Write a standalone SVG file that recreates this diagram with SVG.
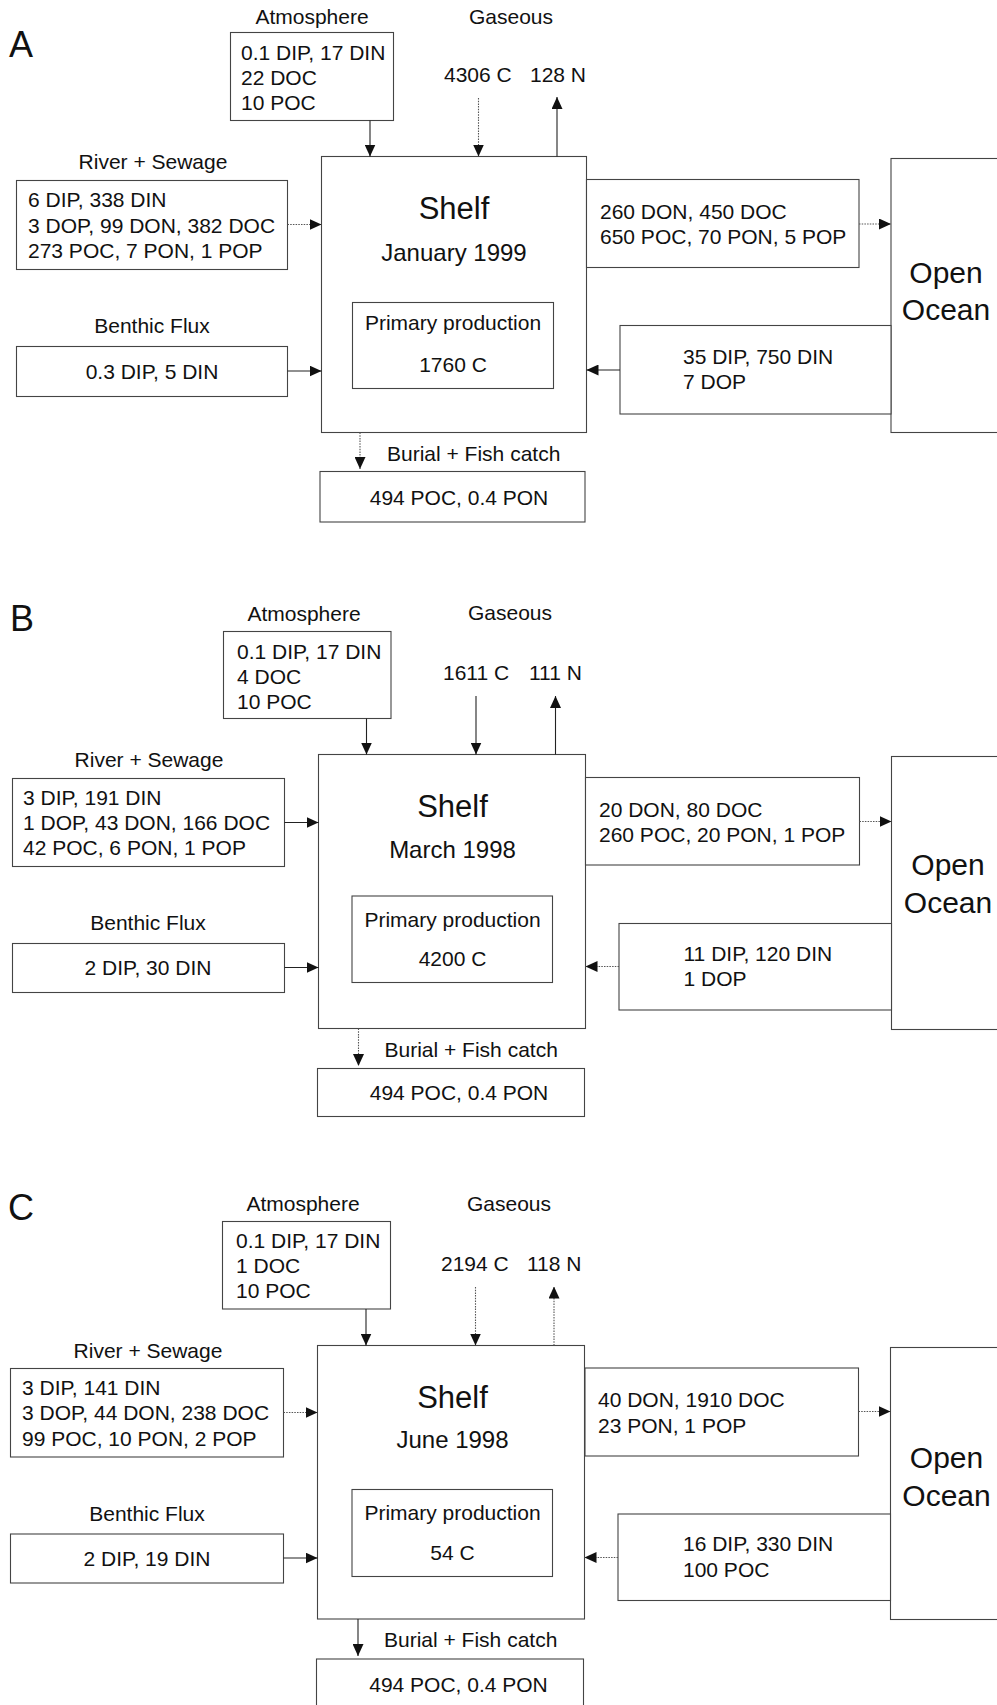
<svg xmlns="http://www.w3.org/2000/svg" width="997" height="1705" viewBox="0 0 997 1705">
<style>
text{font-family:"Liberation Sans",Arial,sans-serif;font-size:21px;fill:#111}
.lbl{font-size:21px}
.c{text-anchor:middle}
.big{font-size:31px}
.date{font-size:24px}
.oc{font-size:30px}
.pl{font-size:36px}
rect{fill:#fff;stroke:#444;stroke-width:1.1}
.s{stroke:#222;stroke-width:1.1;fill:none}
.d{stroke:#555;stroke-width:1.1;fill:none;stroke-dasharray:1.5 1.2}
</style>
<defs>
<marker id="ah" markerUnits="userSpaceOnUse" markerWidth="12" markerHeight="11" viewBox="0 0 12 11" refX="12" refY="5.5" orient="auto">
<path d="M0,0 L12,5.5 L0,11 z" fill="#111"/>
</marker>
</defs>
<rect x="0" y="0" width="997" height="1705" style="fill:#fff;stroke:none"/>

<!-- ===== Panel A ===== -->
<g id="panelA">
<text class="pl" x="9" y="57">A</text>
<g id="A-atm">
<text class="lbl c" x="312" y="24">Atmosphere</text>
<rect x="230.5" y="32.5" width="163" height="88"/>
<text x="241" y="59.5">0.1 DIP, 17 DIN</text>
<text x="241" y="85">22 DOC</text>
<text x="241" y="110">10 POC</text>
</g>
<g id="A-gas">
<text class="lbl c" x="511" y="24">Gaseous</text>
<text x="444" y="82">4306 C</text>
<text x="530" y="82">128 N</text>
</g>
<g id="A-shelf">
<rect x="321.5" y="156.5" width="265" height="276"/>
<text class="big c" x="454" y="219">Shelf</text>
<text class="date c" x="454" y="261">January 1999</text>
</g>
<g id="A-pp">
<rect x="352.5" y="302.5" width="201" height="86"/>
<text class="c" x="453" y="330">Primary production</text>
<text class="c" x="453" y="372">1760 C</text>
</g>
<g id="A-river">
<text class="lbl c" x="153" y="169">River + Sewage</text>
<rect x="16.5" y="180.5" width="271" height="89"/>
<text x="28" y="207">6 DIP, 338 DIN</text>
<text x="28" y="232.5">3 DOP, 99 DON, 382 DOC</text>
<text x="28" y="258">273 POC, 7 PON, 1 POP</text>
</g>
<g id="A-benthic">
<text class="lbl c" x="152" y="333">Benthic Flux</text>
<rect x="16.5" y="346.5" width="271" height="50"/>
<text class="c" x="152" y="379">0.3 DIP, 5 DIN</text>
</g>
<g id="A-burial">
<text x="387" y="461">Burial + Fish catch</text>
<rect x="320" y="471.5" width="265" height="50.5"/>
<text class="c" x="459" y="505">494 POC, 0.4 PON</text>
</g>
<g id="A-out">
<rect x="586.5" y="179.5" width="272.5" height="88"/>
<text x="600" y="218.5">260 DON, 450 DOC</text>
<text x="600" y="243.5">650 POC, 70 PON, 5 POP</text>
</g>
<g id="A-ocean">
<rect x="891" y="158.5" width="200" height="274"/>
<text class="oc c" x="946" y="283">Open</text>
<text class="oc c" x="946" y="320">Ocean</text>
</g>
<g id="A-in">
<rect x="620" y="325.5" width="271" height="88.5"/>
<text x="683" y="363.5">35 DIP, 750 DIN</text>
<text x="683" y="388.5">7 DOP</text>
</g>
</g>

<!-- ===== Panel B ===== -->
<g id="panelB">
<text class="pl" x="10" y="631">B</text>
<g id="B-atm">
<text class="lbl c" x="304" y="621">Atmosphere</text>
<rect x="223.5" y="631.5" width="167.5" height="87"/>
<text x="237" y="658.5">0.1 DIP, 17 DIN</text>
<text x="237" y="683.5">4 DOC</text>
<text x="237" y="708.5">10 POC</text>
</g>
<g id="B-gas">
<text class="lbl c" x="510" y="619.5">Gaseous</text>
<text x="443" y="680">1611 C</text>
<text x="529" y="680">111 N</text>
</g>
<g id="B-shelf">
<rect x="318.5" y="754.5" width="267" height="274"/>
<text class="big c" x="452.5" y="816.5">Shelf</text>
<text class="date c" x="452.5" y="857.5">March 1998</text>
</g>
<g id="B-pp">
<rect x="352" y="896" width="200.5" height="86.5"/>
<text class="c" x="452.5" y="926.5">Primary production</text>
<text class="c" x="452.5" y="966">4200 C</text>
</g>
<g id="B-river">
<text class="lbl c" x="149" y="766.5">River + Sewage</text>
<rect x="12.5" y="778.5" width="272" height="88"/>
<text x="23" y="805">3 DIP, 191 DIN</text>
<text x="23" y="830">1 DOP, 43 DON, 166 DOC</text>
<text x="23" y="855">42 POC, 6 PON, 1 POP</text>
</g>
<g id="B-benthic">
<text class="lbl c" x="148" y="930">Benthic Flux</text>
<rect x="12.5" y="943.5" width="272" height="49"/>
<text class="c" x="148" y="975">2 DIP, 30 DIN</text>
</g>
<g id="B-burial">
<text x="384.5" y="1056.5">Burial + Fish catch</text>
<rect x="317.5" y="1068.5" width="267" height="48"/>
<text class="c" x="459" y="1100">494 POC, 0.4 PON</text>
</g>
<g id="B-out">
<rect x="585.5" y="777.5" width="274" height="87.5"/>
<text x="599" y="816.5">20 DON, 80 DOC</text>
<text x="599" y="841.5">260 POC, 20 PON, 1 POP</text>
</g>
<g id="B-ocean">
<rect x="891.5" y="756.5" width="200" height="273"/>
<text class="oc c" x="948" y="875">Open</text>
<text class="oc c" x="948" y="913">Ocean</text>
</g>
<g id="B-in">
<rect x="619" y="923.5" width="272.5" height="86.5"/>
<text x="683.5" y="961">11 DIP, 120 DIN</text>
<text x="683.5" y="986">1 DOP</text>
</g>
</g>

<!-- ===== Panel C ===== -->
<g id="panelC">
<text class="pl" x="8" y="1219.5">C</text>
<g id="C-atm">
<text class="lbl c" x="303" y="1211">Atmosphere</text>
<rect x="222.5" y="1221.5" width="168" height="87.5"/>
<text x="236" y="1248">0.1 DIP, 17 DIN</text>
<text x="236" y="1273">1 DOC</text>
<text x="236" y="1298">10 POC</text>
</g>
<g id="C-gas">
<text class="lbl c" x="509" y="1211">Gaseous</text>
<text x="441" y="1270.5">2194 C</text>
<text x="527" y="1270.5">118 N</text>
</g>
<g id="C-shelf">
<rect x="317.5" y="1345.5" width="267" height="273.5"/>
<text class="big c" x="452.5" y="1407.5">Shelf</text>
<text class="date c" x="452.5" y="1447.5">June 1998</text>
</g>
<g id="C-pp">
<rect x="352" y="1489.5" width="200.5" height="87"/>
<text class="c" x="452.5" y="1519.5">Primary production</text>
<text class="c" x="452.5" y="1559.5">54 C</text>
</g>
<g id="C-river">
<text class="lbl c" x="148" y="1357.5">River + Sewage</text>
<rect x="10.5" y="1368.5" width="273" height="88.5"/>
<text x="22" y="1395">3 DIP, 141 DIN</text>
<text x="22" y="1420">3 DOP, 44 DON, 238 DOC</text>
<text x="22" y="1446">99 POC, 10 PON, 2 POP</text>
</g>
<g id="C-benthic">
<text class="lbl c" x="147" y="1521">Benthic Flux</text>
<rect x="10.5" y="1534" width="273" height="49"/>
<text class="c" x="147" y="1565.5">2 DIP, 19 DIN</text>
</g>
<g id="C-burial">
<text x="384" y="1647">Burial + Fish catch</text>
<rect x="316.5" y="1659" width="267" height="60"/>
<text class="c" x="458.5" y="1691.5">494 POC, 0.4 PON</text>
</g>
<g id="C-out">
<rect x="585" y="1368" width="273.5" height="88"/>
<text x="598" y="1407">40 DON, 1910 DOC</text>
<text x="598" y="1432.5">23 PON, 1 POP</text>
</g>
<g id="C-ocean">
<rect x="890.5" y="1347.5" width="200" height="272"/>
<text class="oc c" x="946.5" y="1468">Open</text>
<text class="oc c" x="946.5" y="1506">Ocean</text>
</g>
<g id="C-in">
<rect x="618" y="1514" width="272.5" height="86.5"/>
<text x="683" y="1551">16 DIP, 330 DIN</text>
<text x="683" y="1577">100 POC</text>
</g>
</g>

<!-- ===== Connectors ===== -->
<g id="connectors">
<!-- A -->
<line class="s" x1="370" y1="120.5" x2="370" y2="156.5" marker-end="url(#ah)"/>
<line class="d" x1="478.5" y1="98" x2="478.5" y2="156.5" marker-end="url(#ah)"/>
<line class="s" x1="557" y1="156.5" x2="557" y2="97" marker-end="url(#ah)"/>
<line class="d" x1="287.5" y1="224.5" x2="321.5" y2="224.5" marker-end="url(#ah)"/>
<line class="s" x1="287.5" y1="371" x2="321.5" y2="371" marker-end="url(#ah)"/>
<line class="d" x1="360" y1="432.5" x2="360" y2="469" marker-end="url(#ah)"/>
<line class="d" x1="859" y1="224" x2="891" y2="224" marker-end="url(#ah)"/>
<line class="s" x1="620" y1="370" x2="586.5" y2="370" marker-end="url(#ah)"/>
<!-- B -->
<line class="s" x1="366.5" y1="718.5" x2="366.5" y2="754.5" marker-end="url(#ah)"/>
<line class="s" x1="476" y1="696" x2="476" y2="754.5" marker-end="url(#ah)"/>
<line class="s" x1="555.5" y1="754.5" x2="555.5" y2="696" marker-end="url(#ah)"/>
<line class="s" x1="284.5" y1="822.5" x2="318.5" y2="822.5" marker-end="url(#ah)"/>
<line class="s" x1="284.5" y1="967.5" x2="318.5" y2="967.5" marker-end="url(#ah)"/>
<line class="d" x1="358.5" y1="1028.5" x2="358.5" y2="1066" marker-end="url(#ah)"/>
<line class="d" x1="859.5" y1="821.5" x2="891.5" y2="821.5" marker-end="url(#ah)"/>
<line class="d" x1="619" y1="966.5" x2="585.5" y2="966.5" marker-end="url(#ah)"/>
<!-- C -->
<line class="s" x1="366" y1="1309" x2="366" y2="1345.5" marker-end="url(#ah)"/>
<line class="d" x1="475.5" y1="1287" x2="475.5" y2="1345.5" marker-end="url(#ah)"/>
<line class="d" x1="554" y1="1345.5" x2="554" y2="1286.5" marker-end="url(#ah)"/>
<line class="d" x1="283.5" y1="1412.5" x2="317.5" y2="1412.5" marker-end="url(#ah)"/>
<line class="s" x1="283.5" y1="1558" x2="317.5" y2="1558" marker-end="url(#ah)"/>
<line class="s" x1="358" y1="1619" x2="358" y2="1656" marker-end="url(#ah)"/>
<line class="d" x1="858.5" y1="1411.5" x2="890.5" y2="1411.5" marker-end="url(#ah)"/>
<line class="d" x1="618" y1="1557.5" x2="584.5" y2="1557.5" marker-end="url(#ah)"/>
</g>
</svg>
